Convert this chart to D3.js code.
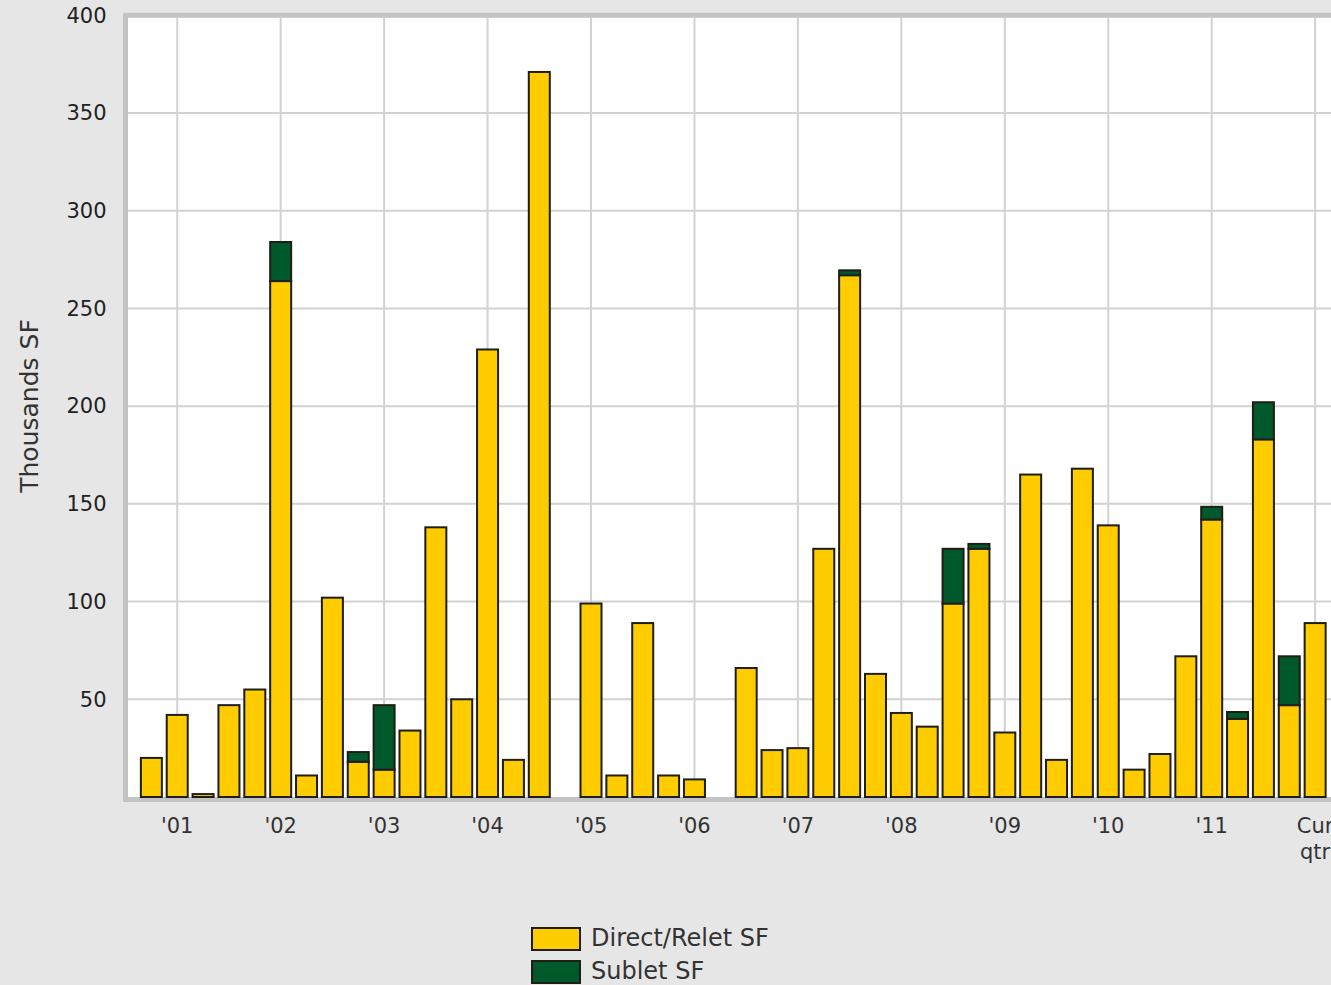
<!DOCTYPE html>
<html>
<head>
<meta charset="utf-8">
<script src="https://cdn.jsdelivr.net/npm/d3@7"></script>
<style>
  body { margin:0; background:#e6e6e6; }
  svg { display:block; font-family:"DejaVu Sans", Verdana, sans-serif; }
</style>
</head>
<body>
<div id="chart"></div>
<script>
// quarters, 4Q00 .. current quarter
const quarters = ["4Q00","1Q01","2Q01","3Q01","4Q01","1Q02","2Q02","3Q02","4Q02","1Q03","2Q03","3Q03","4Q03",
  "1Q04","2Q04","3Q04","4Q04","1Q05","2Q05","3Q05","4Q05","1Q06","2Q06","3Q06","4Q06","1Q07","2Q07","3Q07","4Q07",
  "1Q08","2Q08","3Q08","4Q08","1Q09","2Q09","3Q09","4Q09","1Q10","2Q10","3Q10","4Q10","1Q11","2Q11","3Q11","4Q11","Cur"]
const direct = [20,42,1.5,47,55,264,11,102,18,14,34,138,50,229,19,371,0,99,11,89,11,9,0,66,24,25,127,267,
  63,43,36,99,127,33,165,19,168,139,14,22,72,142,40,183,47,89]
const sublet = [0,0,0,0,0,20,0,0,5,33,0,0,0,0,0,0,0,0,0,0,0,0,0,0,0,0,0,2.5,
  0,0,0,28,2.5,0,0,0,0,0,0,0,0,6.5,3.5,19,25,0]
const tickQuarters = ["1Q01","1Q02","1Q03","1Q04","1Q05","1Q06","1Q07","1Q08","1Q09","1Q10","1Q11","Cur"]
const tickLabels = ["'01","'02","'03","'04","'05","'06","'07","'08","'09","'10","'11","Cur qtr"]
const yTicks = [50,100,150,200,250,300,350,400]
const seriesNames = ["Direct/Relet SF","Sublet SF"]
const colors = ["#ffcc00","#00592a"]

const W = 1331, H = 985
const pLeft = 125.5, pRight = 1341, pTop = 15.3, pBottom = 797

const svg = d3.select("#chart").append("svg")
  .attr("width", W).attr("height", H)

const x = d3.scalePoint().domain(quarters).range([pLeft, pRight]).padding(1)
const y = d3.scaleLinear().domain([0,400]).range([pBottom, pTop])

// plot frame
svg.append("rect")
  .attr("x", pLeft).attr("y", pTop)
  .attr("width", pRight-pLeft).attr("height", pBottom+2.5-pTop)
  .attr("fill","white")
  .attr("stroke","#c3c3c3").attr("stroke-width",5)

// grid
svg.append("g").selectAll("line")
  .data(yTicks.filter(d => d < 400))
  .join("line")
  .attr("x1", pLeft+2.5).attr("x2", pRight)
  .attr("y1", d => y(d)).attr("y2", d => y(d))
  .attr("stroke","#d2d2d2").attr("stroke-width",2)
svg.append("g").selectAll("line")
  .data(tickQuarters)
  .join("line")
  .attr("x1", d => x(d)).attr("x2", d => x(d))
  .attr("y1", pTop+2.5).attr("y2", pBottom)
  .attr("stroke","#d2d2d2").attr("stroke-width",2)

// y axis labels
const yAxis = svg.append("g")
  .attr("transform","translate(" + (pLeft-19) + ",0)")
  .call(d3.axisLeft(y).tickValues(yTicks).tickSize(0).tickPadding(0))
yAxis.select(".domain").remove()
yAxis.selectAll("text")
  .style("font-size","21px").attr("fill","#222")
  .attr("font-family","DejaVu Sans, Verdana, sans-serif")

svg.append("text")
  .attr("transform","translate(38,406) rotate(-90)")
  .attr("text-anchor","middle")
  .style("font-size","25px").attr("fill","#333")
  .text("Thousands SF")

// x labels
const xl = svg.append("g").selectAll("text")
  .data(tickQuarters)
  .join("text")
  .attr("x", d => x(d))
  .attr("y", 833)
  .attr("text-anchor","middle")
  .style("font-size","21px").attr("fill","#333")
xl.each(function(d,i){
  const parts = tickLabels[i].split(" ")
  d3.select(this).selectAll("tspan").data(parts).join("tspan")
    .attr("x", x(d)).attr("dy",(p,j) => j ? 26 : 0).text(p => p)
})

// stacked bars
const table = quarters.map((q,i) => ({q:q, direct:direct[i], sublet:sublet[i]}))
const stack = d3.stack().keys(["direct","sublet"])(table)
const bw = 21
svg.append("g").selectAll("g")
  .data(stack)
  .join("g")
  .attr("fill",(d,i) => colors[i])
  .selectAll("rect")
  .data(d => d.filter(v => v[1]-v[0] > 0))
  .join("rect")
  .attr("x", d => x(d.data.q) - bw/2)
  .attr("y", d => y(d[1]))
  .attr("width", bw)
  .attr("height", d => y(d[0]) - y(d[1]))
  .attr("stroke","#1e1e14").attr("stroke-width",2)

// legend
const lg = svg.append("g").attr("transform","translate(532,928)")
lg.selectAll("rect").data(seriesNames).join("rect")
  .attr("x",0).attr("y",(d,i) => i*33)
  .attr("width",48).attr("height",22)
  .attr("fill",(d,i) => colors[i])
  .attr("stroke","#1e1e14").attr("stroke-width",2)
lg.selectAll("text").data(seriesNames).join("text")
  .attr("x",59).attr("y",(d,i) => i*33 + 18)
  .style("font-size","24px").attr("fill","#333")
  .text(d => d)
</script>
</body>
</html>
